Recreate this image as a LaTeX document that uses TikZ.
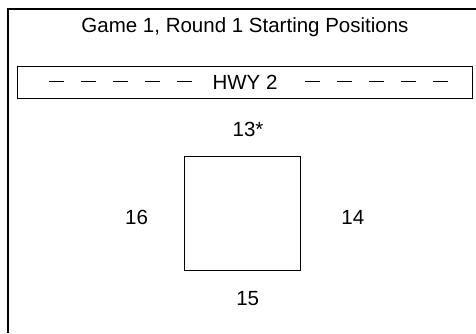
\documentclass[tikz,border=0pt]{standalone}
\usepackage{fontspec}
\setmainfont{Liberation Sans}
\usetikzlibrary{positioning}

\begin{document}
\begin{tikzpicture}[x=1pt, y=-1pt, font=\fontsize{20.5}{24}\selectfont,
    lbl/.style={inner sep=0pt},
    road/.style={draw, line width=0.9pt, minimum width=455.4pt, minimum height=32.5pt, inner sep=0pt},
    spot/.style={draw, line width=1.1pt, minimum width=116pt, minimum height=114.5pt}]
    \useasboundingbox (0,0) rectangle (476,333);
    % frame, cut off at the right and at the bottom
    \draw[line width=1.3pt] (8,333) |- (476,9);

    \node[lbl] (title) at (245,27.5) {Game 1, Round 1 Starting Positions};
    \node[road] (hwy) at (245,82.3) {HWY 2};
    \draw[line width=0.9pt, dash pattern=on 15pt off 17pt] (49,81.5) -- (192,81.5);
    \draw[line width=0.9pt, dash pattern=on 15pt off 17pt] (305,81.5) -- (448,81.5);

    \node[spot] (car) at (242.7,213.3) {};
    \node[lbl, above = 18.5pt of car, xshift=5.3pt] (pos-north) {13*};
    \node[lbl, below = 20pt of car, xshift=5pt] (pos-south) {15};
    \node[lbl, left = 36pt of car, yshift=-4pt] (pos-west) {16};
    \node[lbl, right = 40pt of car, yshift=-4pt] (pos-east) {14};

\end{tikzpicture}
\end{document}
